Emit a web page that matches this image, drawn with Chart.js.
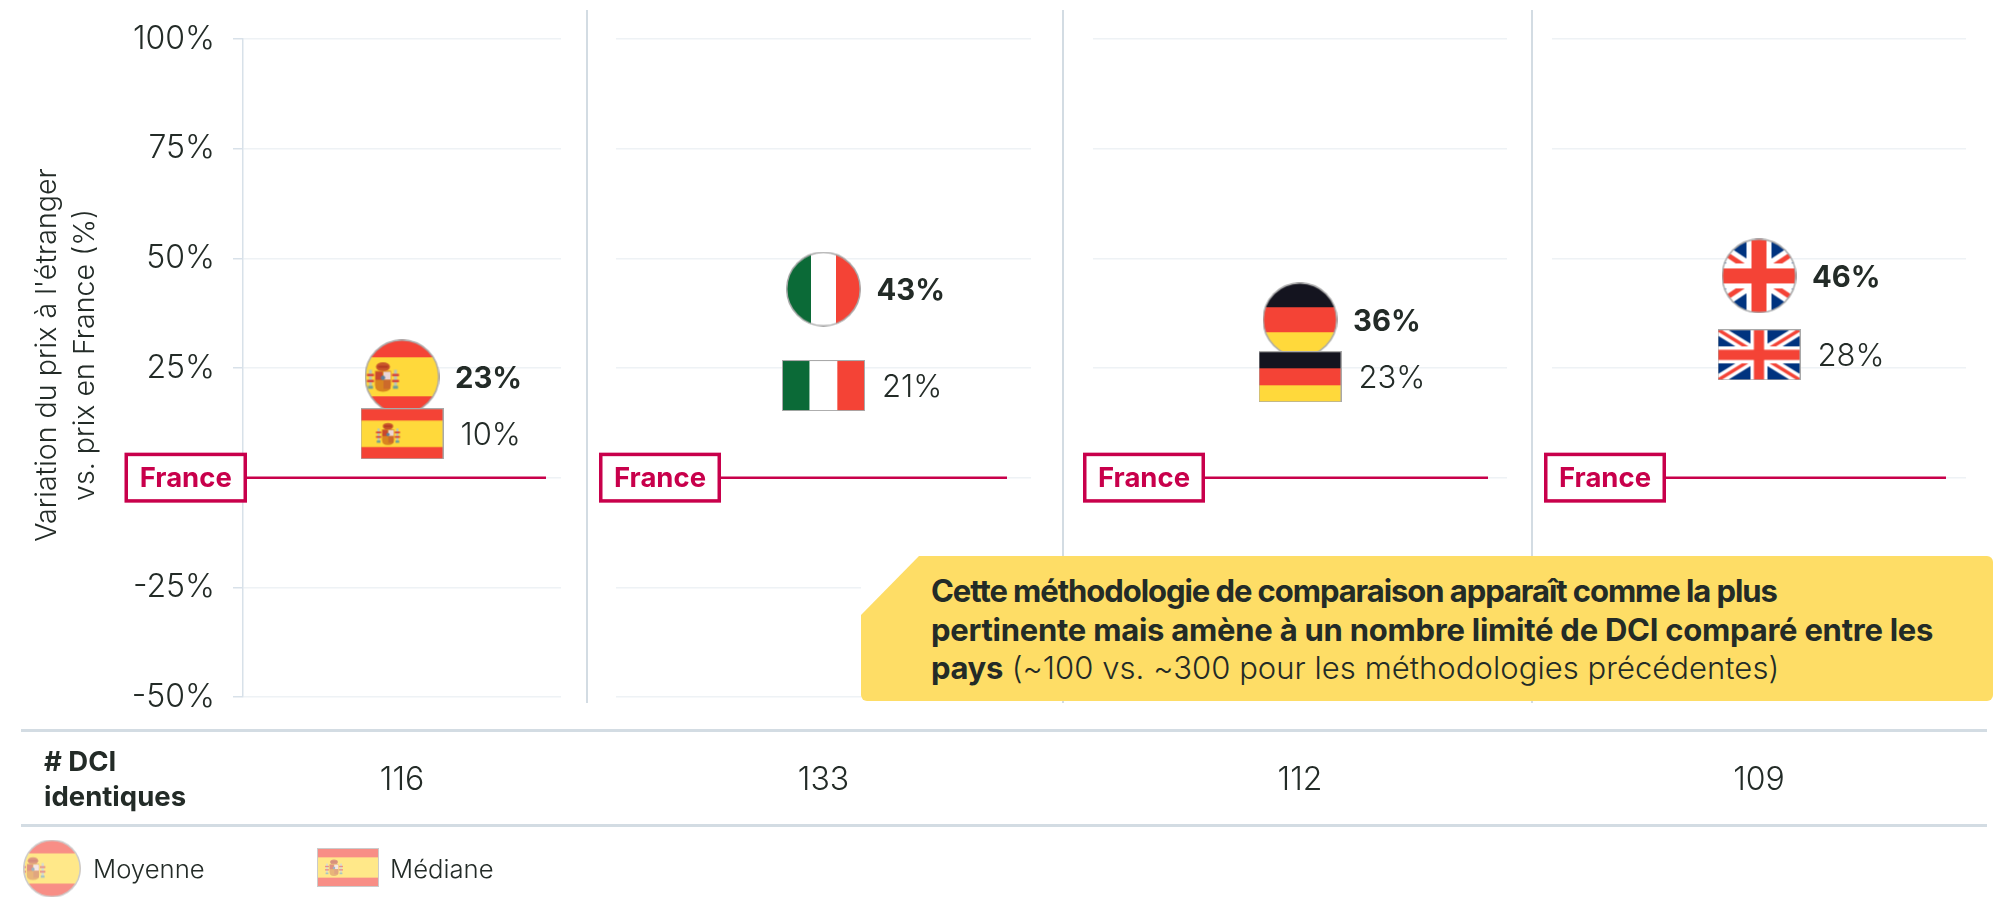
<!DOCTYPE html>
<html lang="fr"><head><meta charset="utf-8">
<script src="https://cdn.jsdelivr.net/npm/chart.js@4/dist/chart.umd.min.js"></script>
<style>
html,body{margin:0;padding:0;background:#fff;width:1993px;height:897px;overflow:hidden}
body{font-family:Inter,sans-serif;color:#232b27;position:relative}
.pane{position:absolute;top:0;height:897px}
.rule{position:absolute;background:#d3dce3}
#calloutBack{position:absolute;left:861px;top:556px;width:80px;height:145px;background:#fff;z-index:3}
#callout{position:absolute;left:861px;top:556px;width:1132px;height:145px;background:#fedd66;z-index:4;border-radius:0 6px 6px 6px;clip-path:polygon(58px 0,100% 0,100% 100%,0 100%,0 59px)}
#callout p{position:absolute;margin:0;left:70px;top:16px;font-size:31px;line-height:38.5px;font-weight:300;white-space:nowrap;letter-spacing:.05px}
#callout b{font-weight:700}
#l1{letter-spacing:-1.07px}
#l2{letter-spacing:-.25px}
#l3{letter-spacing:-.35px}
#dciHead{position:absolute;left:44px;top:744px;font-size:27.5px;line-height:35px;font-weight:700;z-index:2}
</style></head><body>
<div id="stage"></div>
<div class="rule" style="left:586px;top:10px;width:2px;height:693px"></div>
<div class="rule" style="left:1062px;top:10px;width:2px;height:693px"></div>
<div class="rule" style="left:1531px;top:10px;width:2px;height:693px"></div>
<div class="rule" style="left:21px;top:729px;width:1966px;height:3px"></div>
<div class="rule" style="left:21px;top:824px;width:1966px;height:3px"></div>
<div id="calloutBack"></div>
<div id="callout"><p><b id="l1">Cette méthodologie de comparaison apparaît comme la plus</b><br><b id="l2">pertinente mais amène à un nombre limité de DCI comparé entre les</b><br><b id="l3">pays</b> (~100 vs. ~300 pour les méthodologies précédentes)</p></div>
<div id="dciHead"># DCI<br>identiques</div>
<script>
// ---- data ----
const countries = ['Espagne', 'Italie', 'Allemagne', 'Royaume-Uni'];
const moyenne   = [23, 43, 36, 46];
const mediane   = [10, 21, 23, 28];
const dci       = [116, 133, 112, 109];
const franceRef = 0;
const yAxisTitle = ["Variation du prix à l'étranger", 'vs. prix en France (%)'];
const legendLabels = ['Moyenne', 'Médiane'];
const franceLabel = 'France';

// ---- layout / style ----
const FONT = 'Inter, sans-serif', INK = '#232b27', CRIM = '#c8004b', GRID = '#eef2f5', AXIS = '#d8e1e9';
const RED = '#f44336', YEL = '#ffd93b';
const panes = [
  {left:0,    width:587, area:[243,561],   box:[124.5,247], lineEnd:546},
  {left:587,  width:475, area:[616,1031],  box:[599,721],   lineEnd:1007},
  {left:1062, width:469, area:[1093,1507], box:[1083,1205], lineEnd:1488},
  {left:1531, width:462, area:[1552,1966], box:[1544,1666], lineEnd:1946}
];
const TOP = 39, BOTTOM = 697, H = 897;

// ---- flag artwork used as point styles ----
function emblem(c, x, y, s) {
  c.save(); c.translate(x, y); c.scale(s, s);
  c.filter = 'blur(0.5px)';
  // pillars
  c.fillStyle = '#b9c4b6'; c.fillRect(-14,-7,3,16); c.fillRect(11,-7,3,16);
  c.fillStyle = '#6f9f97'; c.fillRect(-15,9,5,3); c.fillRect(10,9,5,3);
  // ribbons
  c.fillStyle = '#d9453a'; c.fillRect(-16,-3,7,2.4); c.fillRect(9,-3,7,2.4); c.fillRect(-16,3,7,2.4); c.fillRect(9,3,7,2.4);
  // crown
  c.fillStyle = '#c8552a'; c.beginPath(); c.ellipse(0,-10,7,4.5,0,0,7); c.fill();
  c.fillStyle = '#b33a22'; c.fillRect(-5,-11,10,2);
  // shield
  c.fillStyle = '#d98420'; c.beginPath(); c.moveTo(-8,-6); c.lineTo(8,-6); c.lineTo(8,8); c.quadraticCurveTo(8,15,0,15); c.quadraticCurveTo(-8,15,-8,8); c.closePath(); c.fill();
  c.fillStyle = '#c9472e'; c.fillRect(-7.5,-5,7,8);
  c.fillStyle = '#ecd6d6'; c.fillRect(.5,-5,7,8);
  c.fillStyle = '#cc6a2b'; c.fillRect(.5,3,7,9);
  c.fillStyle = '#5f7f9a'; c.beginPath(); c.arc(0,1,2.2,0,7); c.fill();
  c.restore();
}
const painters = {
  Espagne(c,w,h,round){
    const r = h*0.24;
    c.fillStyle = RED; c.fillRect(0,0,w,h);
    c.fillStyle = YEL; c.fillRect(0,r,w,h-2*r);
    if (round) emblem(c,w/2-19,h/2,1.0*w/75); else emblem(c,w/2-14,h/2,0.75*w/83);
  },
  Italie(c,w,h){
    c.fillStyle='#0b6a37'; c.fillRect(0,0,w/3,h);
    c.fillStyle='#ffffff'; c.fillRect(w/3,0,w/3,h);
    c.fillStyle=RED; c.fillRect(2*w/3,0,w/3,h);
  },
  Allemagne(c,w,h){
    c.fillStyle='#14141f'; c.fillRect(0,0,w,h/3);
    c.fillStyle=RED; c.fillRect(0,h/3,w,h/3);
    c.fillStyle=YEL; c.fillRect(0,2*h/3,w,h/3);
  },
  'Royaume-Uni'(c,w,h,round){
    c.fillStyle='#00337f'; c.fillRect(0,0,w,h);
    if (round) { c.translate(-w/4,0); w*=1.5; }
    const k=h/75;
    c.lineCap='butt';
    c.strokeStyle='#fff'; c.lineWidth=15*k;
    c.beginPath(); c.moveTo(0,0); c.lineTo(w,h); c.moveTo(w,0); c.lineTo(0,h); c.stroke();
    c.strokeStyle=RED; c.lineWidth=5*k;
    c.beginPath(); c.moveTo(0,0); c.lineTo(w,h); c.moveTo(w,0); c.lineTo(0,h); c.stroke();
    const a=w/2,b=h/2;
    c.fillStyle='#fff'; c.fillRect(a-12.5*k,0,25*k,h); c.fillRect(0,b-12.5*k,w,25*k);
    c.fillStyle=RED; c.fillRect(a-7.5*k,0,15*k,h); c.fillRect(0,b-7.5*k,w,15*k);
  }
};
function flag(country, round, w, h, alpha) {
  const cv = document.createElement('canvas'); cv.width = w; cv.height = h;
  const c = cv.getContext('2d');
  c.globalAlpha = 1;
  c.save();
  if (round) { c.beginPath(); c.arc(w/2,h/2,w/2-.5,0,7); c.clip(); }
  painters[country](c,w,h,round);
  c.restore();
  if (round) {
    c.strokeStyle='#a9a9a9'; c.lineWidth=1.5; c.beginPath(); c.arc(w/2,h/2,w/2-.75,0,7); c.stroke();
  } else { c.strokeStyle='#a9a9a9'; c.lineWidth=1; c.strokeRect(.5,.5,w-1,h-1); }
  if (alpha < 1) {
    c.globalCompositeOperation = 'destination-in';
    c.fillStyle = 'rgba(0,0,0,'+alpha+')'; c.fillRect(0,0,w,h);
  }
  return cv;
}

// ---- plugins ----
const annotate = {
  id:'annotate',
  afterDatasetsDraw(chart){
    const c = chart.ctx, o = chart.options.plugins.annotate, y = chart.scales.y;
    c.save();
    c.textBaseline='middle'; c.fillStyle=INK;
    // value labels
    const pm = chart.getDatasetMeta(1).data[0], pa = chart.getDatasetMeta(2).data[0];
    c.textAlign='left';
    c.font='700 29.3px '+FONT; c.fillText(moyenne[o.i]+'%', pa.x+53, pa.y+2);
    c.font='300 31px '+FONT; c.fillText(mediane[o.i]+'%', pm.x+58.5, pm.y+2);
    // France box
    const yy = y.getPixelForValue(franceRef), lx = o.box[0]-o.left, rx = o.box[1]-o.left;
    c.fillStyle='#fff'; c.fillRect(lx,yy-24,rx-lx,48);
    c.strokeStyle=CRIM; c.lineWidth=3.5; c.strokeRect(lx+1.75,yy-23.25,rx-lx-3.5,46.5);
    c.fillStyle=CRIM; c.font='700 27.5px '+FONT; c.textAlign='center';
    c.fillText(franceLabel,(lx+rx)/2,yy+1);
    if (o.i===0) {
      // axis title
      c.fillStyle=INK; c.font='300 28.6px '+FONT;
      [47,85].forEach((x,k)=>{ c.save(); c.translate(x,355); c.rotate(-Math.PI/2); c.fillText(yAxisTitle[k],0,0); c.restore(); });
      // legend
      c.textAlign='left'; c.font='300 25.7px '+FONT;
      c.drawImage(flag('Espagne',true,58,58,.6),23,839.5);
      c.fillText(legendLabels[0],93,870);
      c.drawImage(flag('Espagne',false,62,39,.6),317,848);
      c.fillText(legendLabels[1],390,870);
    }
    c.restore();
  }
};
Chart.register(annotate);

const stage = document.getElementById('stage');
panes.forEach((p,i)=>{
  const d = document.createElement('div');
  d.className='pane'; d.style.left=p.left+'px'; d.style.width=p.width+'px';
  const cv = document.createElement('canvas'); cv.width=p.width; cv.height=H; d.appendChild(cv); stage.appendChild(d);
  const span=p.area[1]-p.area[0];
  new Chart(cv,{
    type:'scatter',
    data:{datasets:[
      {label:franceLabel,type:'line',data:[{x:(p.box[1]-p.area[0])/span,y:franceRef},{x:(p.lineEnd-p.area[0])/span,y:franceRef}],
        borderColor:CRIM,borderWidth:2.5,pointRadius:0,order:3,clip:false},
      {label:legendLabels[1],data:[{x:.5,y:mediane[i]}],pointStyle:flag(countries[i],false,83,51,1),pointRadius:10,order:1,clip:false},
      {label:legendLabels[0],data:[{x:.5,y:moyenne[i]}],pointStyle:flag(countries[i],true,75,75,1),pointRadius:10,order:2,clip:false}
    ]},
    options:{
      responsive:false,animation:false,maintainAspectRatio:false,
      layout:{padding:{left:i===0?0:p.area[0]-p.left,right:p.left+p.width-p.area[1],top:TOP,bottom:0}},
      plugins:{legend:{display:false},tooltip:{enabled:false},annotate:{i,left:p.left,box:p.box}},
      scales:{
        x:{type:'linear',min:0,max:1,
          afterBuildTicks(s){s.ticks=[{value:.5}];},
          afterFit(s){s.height=H-BOTTOM;},
          grid:{display:false},border:{display:false},
          ticks:{callback:()=>String(dci[i]),padding:56,maxRotation:0,autoSkip:false,color:INK,font:{family:FONT,size:32,weight:'300'}}},
        y:{type:'linear',min:-50,max:100,
          afterFit(s){s.width=i===0?243:0;},
          grid:{color:GRID,lineWidth:1.5,drawTicks:i===0,tickColor:AXIS,tickLength:10},
          border:{display:i===0,color:AXIS,width:1.5},
          ticks:{display:i===0,stepSize:25,padding:18,color:INK,callback:v=>v+'%',font:{family:FONT,size:32,weight:'300'}}}
      }
    }
  });
  cv.style.display='block';
});
</script>
</body></html>
